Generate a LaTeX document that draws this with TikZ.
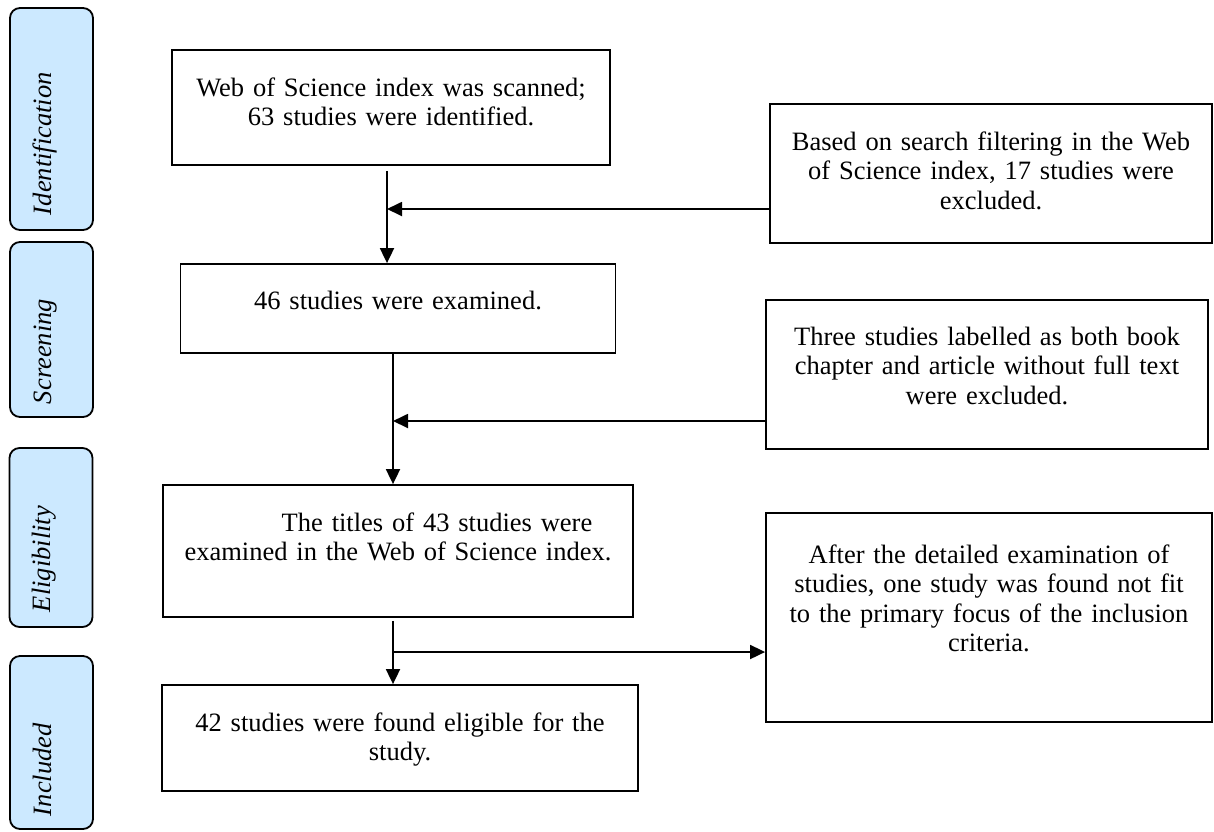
\documentclass[tikz,border=0pt]{standalone}
\usepackage{fontspec}
\setmainfont{Liberation Serif}
\usetikzlibrary{arrows.meta}
\definecolor{stageblue}{RGB}{204,233,255}

\begin{document}
\begin{tikzpicture}[x=1pt, y=-1pt, line width=1.8pt,
                    stage/.style={rectangle, rounded corners=10pt, draw, fill=stageblue,
                                  rotate=90, inner sep=0pt, minimum height=83pt,
                                  align=left, text height=41pt, text depth=42pt,
                                  font=\fontsize{26.5pt}{29.5pt}\selectfont\itshape},
                    box/.style={rectangle, draw, inner sep=0pt, align=center,
                                font=\fontsize{26.5pt}{29.5pt}\selectfont},
                    arrow/.style={-{Triangle[length=15pt, width=14pt]}}]
  \useasboundingbox (0, 0) rectangle (1214, 831);

  % Stages.
  \node at (51.5, 119) [stage, minimum width=222pt, text width=192pt, name=Identification] {Identification};
  \node at (51.5, 329.5) [stage, minimum width=175pt, text width=149pt, name=Screening] {Screening};
  \node at (51, 537.5) [stage, minimum width=179pt, text width=149pt, name=Eligibility] {Eligibility};
  \node at (51.5, 742.5) [stage, minimum width=173pt, text width=147pt, name=Included] {Included};

  % Main flow.
  \node at (391, 107.5) [box, text width=438pt, text height=46pt, text depth=69pt, name=Scanned]
        {Web of Science index was scanned;\\63 studies were identified.};
  \node at (398, 308.5) [box, text width=435pt, text height=45pt, text depth=44pt, name=Examined]
        {46 studies were examined.};
  \node at (398, 551) [box, text width=470pt, text height=46pt, text depth=86pt, name=Titles]
        {\hspace*{78pt}The titles of 43 studies were\\examined in the Web of Science index.};
  \node at (400, 738) [box, text width=476pt, text height=46pt, text depth=60pt, name=Eligible]
        {42 studies were found eligible for the\\study.};

  % Exclusions.
  \node at (991, 173.5) [box, text width=442pt, text height=46pt, text depth=93pt, name=Filtered]
        {Based on search filtering in the Web\\of Science index, 17 studies were\\excluded.};
  \node at (987, 374.5) [box, text width=442pt, text height=45pt, text depth=104pt, name=NoFullText]
        {Three studies labelled as both book\\chapter and article without full text\\were excluded.};
  \node at (989, 617.5) [box, text width=446pt, text height=50pt, text depth=159pt, name=NotFit]
        {After the detailed examination of\\studies, one study was found not fit\\to the primary focus of the inclusion\\criteria.};

  % Branch points on the main flow.
  \coordinate (filterjoin) at (387, 209);
  \coordinate (fulltextjoin) at (393, 421);
  \coordinate (fitsplit) at (393, 652);

  % Connectors.
  \draw [arrow] ([yshift=-5pt]Scanned.south -| filterjoin) -- (Examined.north -| filterjoin);
  \draw [arrow] (Filtered.west |- filterjoin) -- (filterjoin);
  \draw [arrow] (Examined.south -| fulltextjoin) -- (Titles.north -| fulltextjoin);
  \draw [arrow] (NoFullText.west |- fulltextjoin) -- (fulltextjoin);
  \draw [arrow] ([yshift=-3pt]Titles.south -| fitsplit) -- (Eligible.north -| fitsplit);
  \draw [arrow] (fitsplit) -- (NotFit.west |- fitsplit);
\end{tikzpicture}
\end{document}
